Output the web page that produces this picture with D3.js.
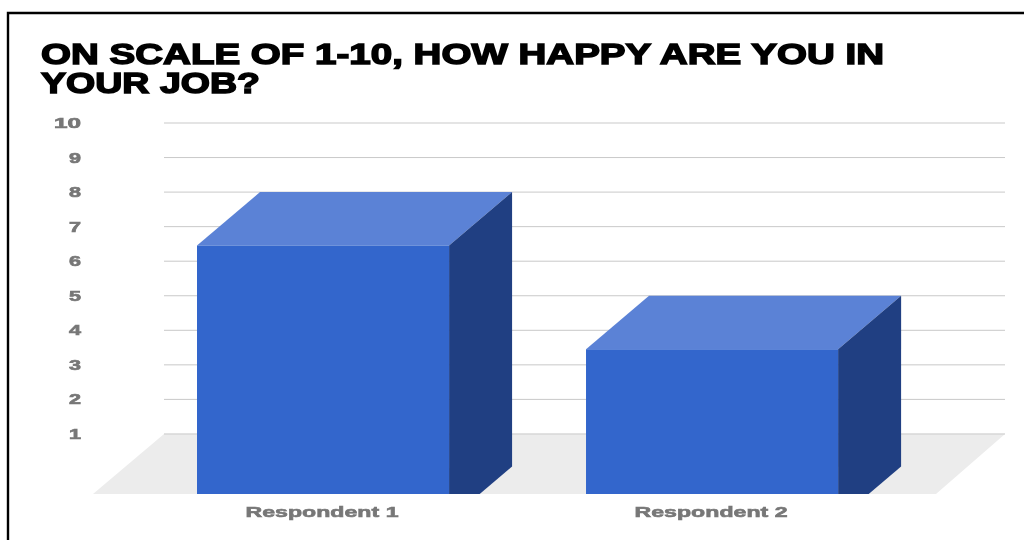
<!DOCTYPE html>
<html><head><meta charset="utf-8">
<script src="https://cdn.jsdelivr.net/npm/d3@7/dist/d3.min.js"></script>
<style>html,body{margin:0;padding:0;background:#fff;overflow:hidden}svg{display:block}text{filter:blur(0.45px)}</style>
</head><body><svg id="c" width="1024" height="540"></svg>
<script>
const categories=["Respondent 1","Respondent 2"];
const values=[8,5];
const yTicks=[1,2,3,4,5,6,7,8,9,10];
const titleLines=["ON SCALE OF 1-10, HOW HAPPY ARE YOU IN","YOUR JOB?"];

const svg=d3.select("#c");
const y=d3.scaleLinear().domain([0,10]).range([468.5,123]);
const x=d3.scaleBand().domain(categories).range([2.5,1032.6]).paddingInner(0.352).paddingOuter(0.5);
const left=164,right=1005,floorBottom=494,dx=63,dy=53.5;

// frame
svg.append("path").attr("d","M8,540V13H1024").attr("fill","none").attr("stroke","#000").attr("stroke-width",2.4);

// title
const tw=[843,219],by=[63.5,92.5];
svg.selectAll(".t").data(titleLines).join("text").attr("class","t")
 .attr("x",41).attr("y",(d,i)=>by[i]).text(d=>d)
 .attr("textLength",(d,i)=>tw[i]).attr("lengthAdjust","spacingAndGlyphs")
 .attr("font-family","Liberation Sans").attr("font-weight",700).attr("font-size",30)
 .attr("fill","#000").attr("stroke","#000").attr("stroke-width",1.5);

// floor
const fy=y(1);
svg.append("path").attr("d",`M${left},${fy}H${right}L${right-69},${floorBottom}H${left-71}Z`).attr("fill","#ececec");

// grid
svg.selectAll(".g").data(yTicks).join("line").attr("class","g")
 .attr("x1",left).attr("x2",right).attr("y1",d=>y(d)).attr("y2",d=>y(d))
 .attr("stroke","#c9c9c9").attr("stroke-width",1);

// y labels
svg.selectAll(".yl").data(yTicks).join("text").attr("class","yl")
 .attr("x",81).attr("y",d=>y(d)+5).attr("text-anchor","end").text(d=>d)
 .attr("font-family","Liberation Sans").attr("font-weight",700).attr("font-size",15)
 .attr("fill","#777").attr("stroke","#777").attr("stroke-width",0.7)
 .attr("textLength",d=>d===10?27:12).attr("lengthAdjust","spacingAndGlyphs");

// bars
svg.append("clipPath").attr("id","cp").append("rect").attr("x",0).attr("y",0).attr("width",1024).attr("height",floorBottom);
const b=svg.append("g").attr("clip-path","url(#cp)");
const bw=x.bandwidth();
const G=b.selectAll("g").data(categories.map((c,i)=>({c,v:values[i]}))).join("g");
const base=y(0);
G.append("path").attr("fill","#5b82d6").attr("d",d=>{const X=x(d.c),T=y(d.v);return `M${X},${T+dy}L${X+dx},${T}H${X+bw+dx}L${X+bw},${T+dy}Z`;});
G.append("path").attr("fill","#203f82").attr("d",d=>{const X=x(d.c)+bw,T=y(d.v);return `M${X},${T+dy}L${X+dx},${T}V${base-2}L${X},${base+dy-2}Z`;});
G.append("path").attr("fill","#3366cc").attr("d",d=>{const X=x(d.c),T=y(d.v);return `M${X},${T+dy}H${X+bw}V${base+dy}H${X}Z`;});

// x labels
svg.selectAll(".xl").data(categories).join("text").attr("class","xl")
 .attr("x",d=>x(d)+bw/2-1).attr("y",516.5).attr("text-anchor","middle").text(d=>d)
 .attr("textLength",153).attr("lengthAdjust","spacingAndGlyphs")
 .attr("font-family","Liberation Sans").attr("font-weight",700).attr("font-size",15)
 .attr("fill","#777").attr("stroke","#777").attr("stroke-width",0.6);
</script></body></html>
